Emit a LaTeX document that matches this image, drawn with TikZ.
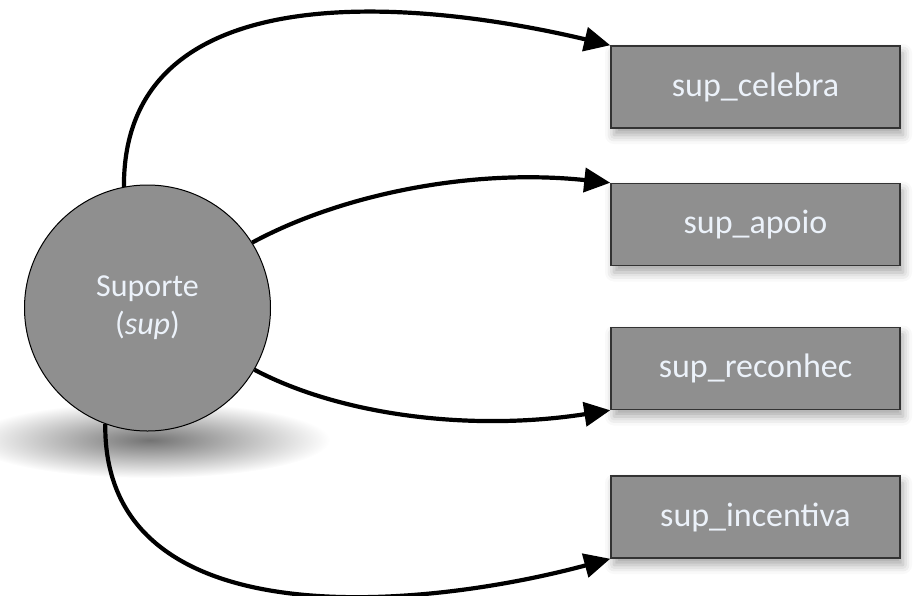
\documentclass[tikz,border=0pt]{standalone}
\usepackage{fontspec}
\setmainfont{Carlito}
\usetikzlibrary{arrows.meta,shadows.blur}

\definecolor{boxgray}{RGB}{143,143,143}
\definecolor{labelwhite}{RGB}{236,242,250}

\tikzset{
  conceito/.style={circle, draw=black, line width=1pt, fill=boxgray,
    minimum size=246pt, inner sep=0pt, align=center, text=labelwhite,
    font=\fontsize{32}{38}\selectfont},
  indicador/.style={rectangle, draw=black!80, line width=1.5pt, fill=boxgray,
    minimum width=289pt, minimum height=82pt, inner sep=0pt, text=labelwhite,
    font=\fontsize{34}{40}\selectfont,
    blur shadow={shadow xshift=3pt, shadow yshift=-7pt, shadow blur radius=9pt, shadow opacity=35}},
  ligacao/.style={line width=4.2pt, -{Triangle[length=26pt,width=24pt]}}
}

\begin{document}
\begin{tikzpicture}[x=1pt,y=1pt]
    \useasboundingbox (0,0) rectangle (924,-595);

    % soft shadow under the circle
    \shade[inner color=black!55, outer color=white]
        (150,-440) ellipse (180 and 38);

    \node[conceito] (sup) at (147.5,-308) {Suporte\\(\textit{sup})};

    % the four indicators
    \node[indicador] (cel) at (755.5,-87)  {sup\_celebra};
    \node[indicador] (apo) at (755.5,-224.5) {sup\_apoio};
    \node[indicador] (rec) at (755.5,-368.5) {sup\_reconhec};
    \node[indicador] (inc) at (755.5,-517) {sup\_incentiva};

    % connectors
    \draw[ligacao] (sup.101) .. controls (123,30) and (420,0) .. (cel.north west);
    \draw[ligacao] (sup.32) .. controls (340,-195) and (470,-168) .. (apo.north west);
    \draw[ligacao] (sup.-30) .. controls (340,-415) and (470,-432) .. (rec.south west);
    \draw[ligacao] (sup.-110) .. controls (103,-640) and (420,-610) .. (inc.south west);
\end{tikzpicture}
\end{document}
